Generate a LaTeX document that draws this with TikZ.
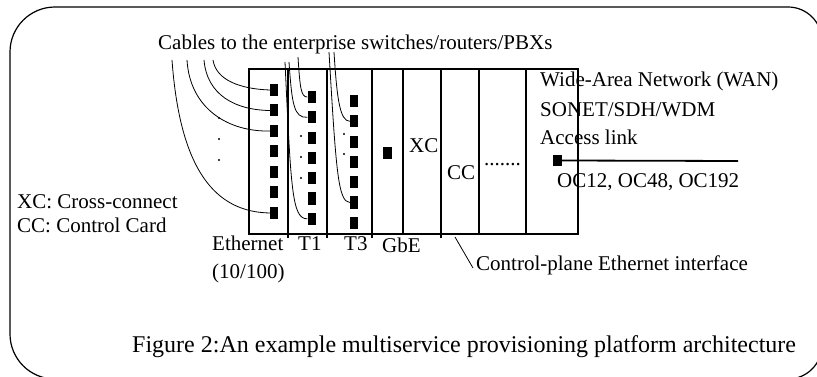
\documentclass[tikz,border=0pt]{standalone}
\usepackage{fontspec}
\setmainfont{Liberation Serif}
\usepackage{tikz}

\tikzset{
	porta/.style={fill=black, inner sep=0pt, minimum width=8pt, minimum height=12pt},
	cavo/.style={line width=0.8pt},
	telaio/.style={line width=1.6pt},
	etichetta/.style={anchor=base west, inner sep=0pt}
}

\begin{document}
\begin{tikzpicture}[x=1pt,y=-1pt,font=\fontsize{21}{25}\selectfont]
		\useasboundingbox (0,0) rectangle (817,377);
		% Cornice
		\draw [line width=1.2pt] (400,7) [rounded corners=34pt] -- (822,7) -- (822,379) -- (400,379) [rounded corners=45pt] -- (10,379) -- (10,7) -- (400,7);
		% Telaio con le schede
		\draw [telaio] (249,69) rectangle (578,234);
		\draw [telaio] (288,69) -- (288,238) (327,69) -- (327,238) (372,69) -- (372,238);
		\draw [telaio] (403,69) -- (403,234) (441,69) -- (441,238) (479,69) -- (479,234) (526,69) -- (526,234);
		% Porte Ethernet, T1, T3
		\foreach \i in {1,...,7} {
			\node [porta] (eth\i) at (274,{90+20.5*(\i-1)}) {};
			\node [porta] (tI\i) at (311.5,{97+20.3*(\i-1)}) {};
			\node [porta] (tIII\i) at (354,{101+20.3*(\i-1)}) {};
		}
		% Porte GbE e WAN
		\node [porta, minimum width=9pt] (gbe) at (387.5,153) {};
		\node [porta, minimum width=9pt, minimum height=11pt] (wan) at (557.5,160.5) {};
		% Puntini
		\fill (219,118) circle (1.2pt) (219,139) circle (1.2pt) (219,160) circle (1.2pt);
		\fill (301,136) circle (1.2pt) (301,157) circle (1.2pt) (301,178) circle (1.2pt);
		\fill (344,134) circle (1.2pt) (344,154) circle (1.2pt);
		% Cavi verso gli switch
		\coordinate (ce1) at (172,60);
		\coordinate (ce2) at (187,60);
		\coordinate (ce3) at (204,60);
		\coordinate (ce4) at (213,60);
		\coordinate (ct1) at (285,62);
		\coordinate (ct2) at (289,62);
		\coordinate (ct3) at (298,57);
		\coordinate (cs1) at (329,52);
		\coordinate (cs2) at (334,52);
		\draw [cavo] (ce1) .. controls (180,170) and (215,212) .. (eth7.west);
		\draw [cavo] (ce2) .. controls (190,110) and (230,132) .. (eth3.west);
		\draw [cavo] (ce3) .. controls (207,95) and (235,110) .. (eth2.west);
		\draw [cavo] (ce4) .. controls (216,80) and (240,89) .. (eth1.west);
		\draw [cavo] (ct1) .. controls (291,190) and (292,219) .. (tI7.west);
		\draw [cavo] (ct2) .. controls (292,105) and (294,118) .. (tI2.west);
		\draw [cavo] (ct3) .. controls (300,88) and (301,97) .. (tI1.west);
		\draw [cavo] (cs1) .. controls (336,170) and (338,202) .. (tIII6.west);
		\draw [cavo] (cs2) .. controls (337,100) and (340,121) .. (tIII2.west);
		% Collegamento WAN
		\coordinate (oc) at (738,161);
		\draw [line width=1.8pt] (wan.east) -- (oc);
		% NOMI
		\node [etichetta] (cavi) at (158,50) {Cables to the enterprise switches/routers/PBXs};
		\node [etichetta] (wan1) at (540,87) {Wide-Area Network (WAN)};
		\node [etichetta] (wan2) at (540,117) {SONET/SDH/WDM};
		\node [etichetta] (wan3) at (540,145) {Access link};
		\node [etichetta] (ocn) at (557,187) {OC12, OC48, OC192};
		\node [etichetta] (xc) at (409,153) {XC};
		\node [etichetta] (cc) at (447,180) {CC};
		\node [etichetta] (altre) at (484,166) {.......};
		\node [etichetta] (leg1) at (17,208) {XC: Cross-connect};
		\node [etichetta] (leg2) at (17,233) {CC: Control Card};
		\node [etichetta] (eth) at (212,250) {Ethernet};
		\node [etichetta] (ethv) at (212,278) {(10/100)};
		\node [etichetta] (t1) at (298,250) {T1};
		\node [etichetta] (t3) at (344,250) {T3};
		\node [etichetta] (gb) at (382,252) {GbE};
		\node [etichetta] (cpe) at (476,270) {Control-plane Ethernet interface};
		\coordinate (cpint) at (455,237);
		\draw [line width=0.8pt] (cpint) -- ([shift={(-3,-2)}]cpe.base west);
		\node [etichetta, font=\fontsize{24}{28}\selectfont] (fig) at (132,352) {Figure 2:An example multiservice provisioning platform architecture};
	\end{tikzpicture}
\end{document}
